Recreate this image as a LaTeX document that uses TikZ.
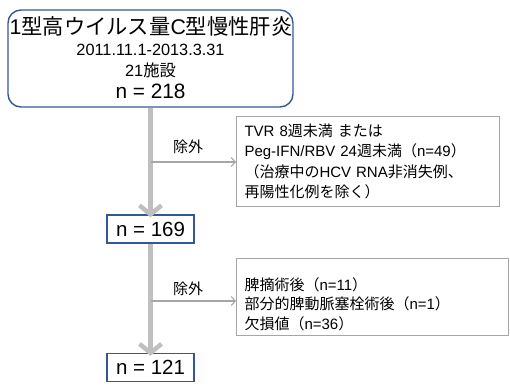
\documentclass[tikz,border=0pt]{standalone}
\usepackage{fontspec}
\setmainfont{Liberation Sans}
\newfontfamily\jp{Noto Sans CJK JP}
\newcommand{\J}[1]{{\jp #1}}
\usetikzlibrary{arrows.meta}
\definecolor{bordblue}{RGB}{52,87,150}
\definecolor{flowgray}{RGB}{191,191,191}
\definecolor{exgray}{RGB}{166,166,166}
\tikzset{
  bluebox/.style={draw=bordblue, line width=1.4pt, inner sep=0pt, minimum width=87pt, minimum height=28pt, font=\fontsize{20.5}{24}\selectfont},
  exbox/.style={draw=exgray, line width=1pt, anchor=north west, inner xsep=8pt, inner ysep=0pt, align=left},
  thick flow/.style={draw=flowgray, line width=5pt, -{Straight Barb[length=9pt,width=22pt,line width=4.5pt]}},
  thin flow/.style={draw=exgray, line width=1.1pt, -{Straight Barb[length=4pt,width=9pt,line width=1.1pt]}},
  exlabel/.style={font=\fontsize{15}{18}\selectfont, text=black},
}
\begin{document}
\begin{tikzpicture}[x=1pt,y=-1pt]
\useasboundingbox (0,0) rectangle (510,389);
% top box
\node[draw=bordblue, line width=1.4pt, rounded corners=13pt, minimum width=285pt, minimum height=97pt, inner sep=0pt] (top) at (150.5,58.5) {};
\node[anchor=base, font=\fontsize{21.3}{24}\selectfont] (title) at (151,34) {1\J{型高ウイルス量}C\J{型慢性肝炎}};
\node[anchor=base, font=\fontsize{16.3}{18}\selectfont] (date) at (150.5,55) {2011.11.1-2013.3.31};
\node[anchor=base, font=\fontsize{16.3}{18}\selectfont] (sites) at (150.5,76) {21\J{施設}};
\node[anchor=base, font=\fontsize{20.8}{24}\selectfont] (n218) at (150.5,98) {n = 218};
% boxes
\node[bluebox] (n169) at (150.5,229) {n = 169};
\node[bluebox] (n121) at (150.5,367.5) {n = 121};
% exclusion boxes
\node[exbox, text width=247pt, minimum height=90pt, font=\fontsize{15}{20.5}\selectfont] (ex1) at (236,116) {TVR 8\J{週未満 または}\\Peg-IFN/RBV 24\J{週未満（}n=49\J{）}\\\J{（治療中の}HCV RNA\J{非消失例、}\\\J{再陽性化例を除く）}};
\node[exbox, text width=256pt, minimum height=77pt, font=\fontsize{15}{19.5}\selectfont] (ex2) at (236,258) {\rule{0pt}{27pt}\J{脾摘術後（}n=11\J{）}\\\J{部分的脾動脈塞栓術後（}n=1\J{）}\\\J{欠損値（}n=36\J{）}};
% main flow
\draw[thick flow] (top.south) -- ([yshift=-3pt]n169.north);
\draw[thick flow] (n169.south) -- ([yshift=-3pt]n121.north);
% branches
\coordinate (j1) at (151,162);
\coordinate (j2) at (151,301);
\draw[thin flow] (j1) -- (j1 -| ex1.west);
\draw[thin flow] (j2) -- (j2 -| ex2.west);
\node[exlabel] (l1) at (188,147) {\J{除外}};
\node[exlabel] (l2) at (188,289) {\J{除外}};
\end{tikzpicture}
\end{document}
